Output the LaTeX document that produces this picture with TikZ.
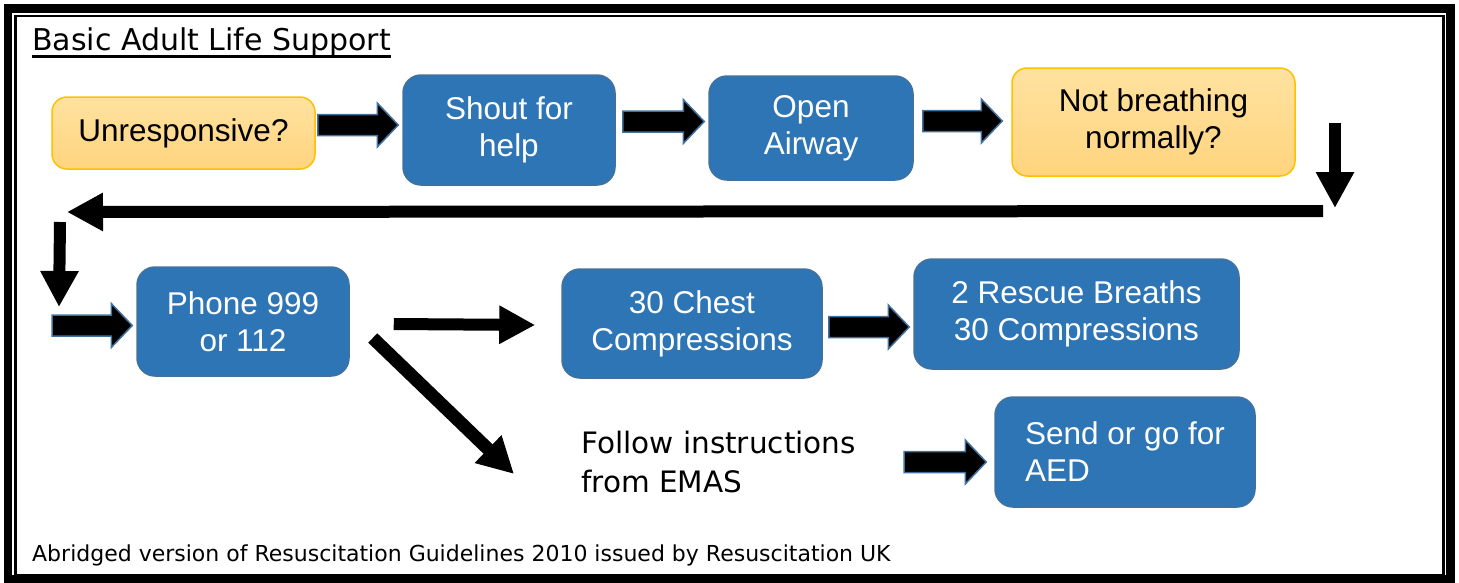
\documentclass[tikz,border=0pt]{standalone}
\usepackage{fontspec}
\setmainfont{Liberation Sans}
\newfontfamily\comicfont{DejaVu Sans}
\usetikzlibrary{arrows.meta,calc}
\definecolor{boxblue}{HTML}{2E75B6}
\definecolor{boxedge}{HTML}{41719C}
\definecolor{yellowtop}{HTML}{FFE2A0}
\definecolor{yellowbot}{HTML}{FFD47E}
\definecolor{yellowedge}{HTML}{FFC000}
\newcommand\blockarrow[3]{%
  \draw [blockarr] let \p1 = (#1), \p2 = (#2), \p3 = (0,#3) in
    (\x1,\y3+10.5pt) -- (\x2-21pt,\y3+10.5pt) -- (\x2-21pt,\y3+22pt) -- (\x2,\y3)
    -- (\x2-21pt,\y3-22pt) -- (\x2-21pt,\y3-10.5pt) -- (\x1,\y3-10.5pt) -- cycle;}
\begin{document}
\begin{tikzpicture}[x=1pt,y=-1pt,
    box/.style = {rounded corners=18pt, line width=1.5pt, inner sep=0pt, align=center,
                  font=\fontsize{31.5}{37}\selectfont},
    bluebox/.style = {box, fill=boxblue, draw=boxedge, text=white},
    yellowbox/.style = {box, top color=yellowtop, bottom color=yellowbot, draw=yellowedge, rounded corners=15pt},
    blockarr/.style = {fill=black, draw=boxedge, line width=1.5pt, line join=miter},
    linearr/.style = {line width=12pt, -{Triangle[width=36pt,length=36pt]}},
    comic/.style = {font=\comicfont\fontsize{29.5}{39.5}\selectfont, inner sep=0pt}]
    \useasboundingbox (0,0) rectangle (1459,582);
    \draw [line width=8.5pt] (8,8.5) rectangle (1450.5,579.5);
    \draw [line width=2.5pt] (15.5,16.2) rectangle (1443.7,575);

    \node [comic, font=\comicfont\fontsize{30}{36}\selectfont, anchor=base west] (title) at (32,50) {Basic Adult Life Support};
    \draw [line width=2.8pt] (title.south west) -- (title.south east);

    \node [yellowbox, minimum width=263pt, minimum height=72pt] (unresp) at (183.5,133) {Unresponsive?};
    \node [bluebox, minimum width=212pt, minimum height=110pt] (shout) at (509,130) {Shout for\\help};
    \node [bluebox, minimum width=204pt, minimum height=104pt] (airway) at (811,128) {Open\\Airway};
    \node [yellowbox, minimum width=283pt, minimum height=108pt] (notbr) at (1153.5,122) {Not breathing\\normally?};
    \node [bluebox, minimum width=212pt, minimum height=109pt] (phone) at (243,321.5) {Phone 999\\or 112};
    \node [bluebox, minimum width=260pt, minimum height=109pt] (chest) at (692,323.5) {30 Chest\\Compressions};
    \node [bluebox, minimum width=325pt, minimum height=110pt] (rescue) at (1076.5,314) {2 Rescue Breaths\\30 Compressions};
    \node [bluebox, align=left, inner xsep=28pt, minimum width=260pt, minimum height=110pt] (aed) at (1125,452) {Send or go for\\AED};
    \node [comic, anchor=west, align=left] (follow) at (581,462) {Follow instructions\\from EMAS};
    \node [comic, font=\comicfont\fontsize{22}{26}\selectfont, anchor=base west] (note) at (32,561)
        {Abridged version of Resuscitation Guidelines 2010 issued by Resuscitation UK};

    \coordinate (downA) at (1335,123);
    \coordinate (downB) at (1335,208);
    \coordinate (backA) at (1323,211);
    \coordinate (backB) at (67,212);
    \coordinate (leftA) at (60,222);
    \coordinate (leftB) at (59,307);
    \coordinate (phonein) at (52,325.5);
    \coordinate (aedin) at (904,462);

    \blockarrow{$(unresp.east)+(2,0)$}{$(shout.west)+(-4,0)$}{125}
    \blockarrow{$(shout.east)+(7,0)$}{$(airway.west)+(-4,0)$}{121.5}
    \blockarrow{$(airway.east)+(9,0)$}{$(notbr.west)+(-9,0)$}{121}
    \blockarrow{phonein}{$(phone.west)+(-4,0)$}{325.5}
    \blockarrow{$(chest.east)+(6,0)$}{$(rescue.west)+(-4,0)$}{327}
    \blockarrow{aedin}{$(aed.west)+(-8,0)$}{462}

    \draw [linearr] (downA) -- (downB);
    \draw [linearr] (backA) -- (backB);
    \draw [linearr] (leftA) -- (leftB);
    \draw [linearr] ($(phone.east)+(44,2.5)$) -- ($(chest.west)+(-26,1.5)$);
    \draw [linearr, line width=13pt] ($(phone.east)+(23,16.5)$) -- ($(follow.west)+(-67,12)$);
\end{tikzpicture}
\end{document}
